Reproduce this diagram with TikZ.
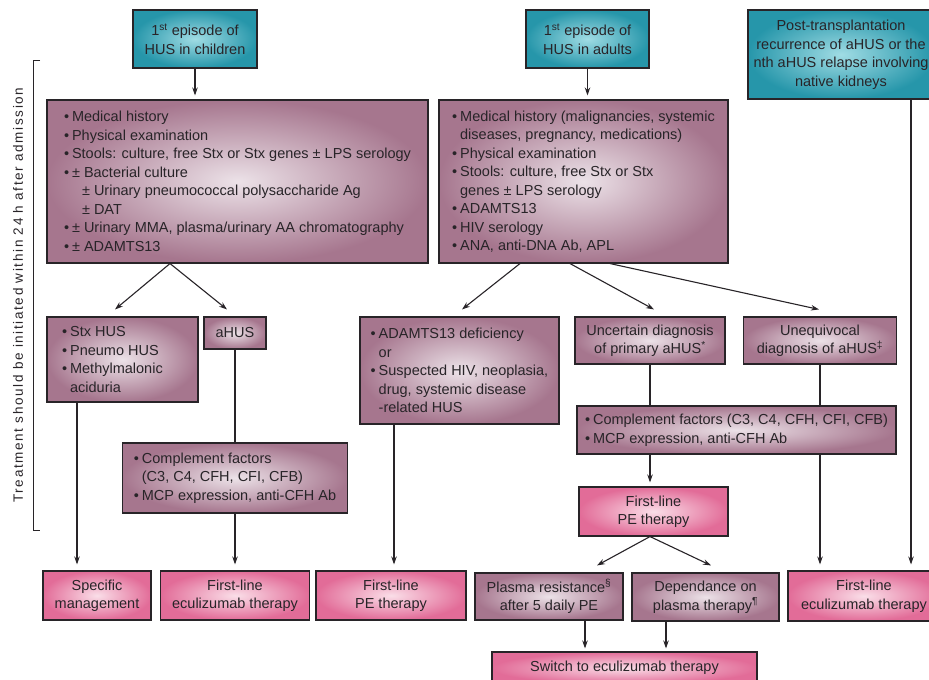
\documentclass[tikz,border=0pt]{standalone}
\usepackage{fontspec}
\setmainfont{Liberation Sans}
\usetikzlibrary{arrows.meta,calc}
\definecolor{tealD}{RGB}{38,150,170}
\definecolor{tealL}{RGB}{160,220,228}
\definecolor{mauveD}{RGB}{166,118,142}
\definecolor{mauveL}{RGB}{236,226,232}
\definecolor{pinkD}{RGB}{226,108,152}
\definecolor{pinkL}{RGB}{250,222,232}
\definecolor{inkc}{RGB}{40,36,40}
\newcommand{\fs}{\fontsize{14.5}{18.5}\selectfont}
\newcommand{\bl}{\makebox[8pt][l]{\textbullet}}
\newcommand{\ind}{\hspace*{8pt}}
\begin{document}
\begin{tikzpicture}[x=1pt,y=-1pt,
  base/.style={draw=inkc, line width=1.1pt, inner sep=0pt, font=\fs, text=inkc},
  tealbox/.style={base, inner color=tealL, outer color=tealD, align=center},
  mauvebox/.style={base, inner color=mauveL, outer color=mauveD, align=left},
  mauvec/.style={base, inner color=mauveL, outer color=mauveD, align=center},
  pinkbox/.style={base, inner color=pinkL, outer color=pinkD, align=center},
  conn/.style={draw=inkc, line width=1.1pt},
  arr/.style={conn, -{Stealth[length=8pt,width=5.5pt]}},
]
\clip (0,0) rectangle (929,680);
\fill[white] (0,0) rectangle (929,680);

% top boxes
\node[tealbox, minimum width=124pt, minimum height=58pt] (ch) at (195,39) {1\textsuperscript{st} episode of\\HUS in children};
\node[tealbox, minimum width=123pt, minimum height=58pt] (ad) at (587.5,39) {1\textsuperscript{st} episode of\\HUS in adults};
\node[tealbox, minimum width=186pt, minimum height=89pt] (pt) at (841,54.5) {Post-transplantation\\recurrence of aHUS or the\\nth aHUS relapse involving\\native kidneys};

% big boxes
\node[mauvebox, minimum width=381pt, minimum height=163pt] (cb) at (237.5,181.5) {\bl Medical history\\
\bl Physical examination\\
\bl Stools: culture, free Stx or Stx genes ± LPS serology\\
\bl ± Bacterial culture\\
\hspace*{18pt}± Urinary pneumococcal polysaccharide Ag\\
\hspace*{18pt}± DAT\\
\bl ± Urinary MMA, plasma/urinary AA chromatography\\
\bl ± ADAMTS13};
\node[mauvebox, minimum width=289pt, minimum height=163pt] (ab) at (583.5,181.5) {\bl Medical history (malignancies, systemic\\
\ind diseases, pregnancy, medications)\\
\bl Physical examination\\
\bl Stools: culture, free Stx or Stx\\
\ind genes ± LPS serology\\
\bl ADAMTS13\\
\bl HIV serology\\
\bl ANA, anti-DNA Ab, APL};

% second row
\node[mauvebox, minimum width=151pt, minimum height=85pt] (stx) at (122.5,359.5) {\bl Stx HUS\\
\bl Pneumo HUS\\
\bl Methylmalonic\\
\ind aciduria\hspace*{62pt}};
\node[mauvec, minimum width=62pt, minimum height=32pt] (ahus) at (235,333) {aHUS};
\node[mauvebox, minimum width=199pt, minimum height=107pt] (adm) at (459.5,370.5) {\bl ADAMTS13 deficiency\\
\ind or\\
\bl Suspected HIV, neoplasia,\\
\ind drug, systemic disease\\
\ind -related HUS};
\node[mauvec, minimum width=150pt, minimum height=47pt] (unc) at (650,340.5) {Uncertain diagnosis\\of primary aHUS\textsuperscript{*}};
\node[mauvec, minimum width=153pt, minimum height=47pt] (uneq) at (820,340.5) {Unequivocal\\diagnosis of aHUS\textsuperscript{‡}};

% complement boxes
\node[mauvebox, minimum width=225pt, minimum height=70pt] (cc) at (235,478) {\bl Complement factors\\
\ind (C3, C4, CFH, CFI, CFB)\\
\bl MCP expression, anti-CFH Ab};
\node[mauvebox, minimum width=319pt, minimum height=48pt] (ac) at (736.5,430) {\bl Complement factors (C3, C4, CFH, CFI, CFB)\\
\bl MCP expression, anti-CFH Ab};

\node[pinkbox, minimum width=149pt, minimum height=49pt] (pe1) at (653.5,511.5) {First-line\\PE therapy};

% bottom row
\node[pinkbox, minimum width=108pt, minimum height=49pt] (spec) at (97,595.5) {Specific\\management};
\node[pinkbox, minimum width=149pt, minimum height=49pt] (ecu1) at (235,595.5) {First-line\\eculizumab therapy};
\node[pinkbox, minimum width=150pt, minimum height=49pt] (pe2) at (391,595.5) {First-line\\PE therapy};
\node[mauvec, minimum width=148pt, minimum height=47pt] (pr) at (549,596.5) {Plasma resistance\textsuperscript{§}\\after 5 daily PE};
\node[mauvec, minimum width=147pt, minimum height=48pt] (dep) at (705.5,597) {Dependance on\\plasma therapy\textsuperscript{¶}};
\node[pinkbox, minimum width=152pt, minimum height=50pt] (ecu2) at (864,596) {First-line\\eculizumab therapy};
\node[pinkbox, minimum width=265pt, minimum height=32pt] (sw) at (624.5,668) {Switch to eculizumab therapy};

% side bracket and label
\draw[conn, line width=1pt] (40,60) -- (33,60) -- (33,530) -- (40,530);
\node[rotate=90, text=inkc, font=\fontsize{13.5}{16}\selectfont\addfontfeature{LetterSpace=12}] (lbl) at (18,295) {Treatment should be initiated within 24 h after admission};

% connectors
\draw[arr, shorten >=4pt] (ch.south) -- (ch.south |- cb.north);
\draw[arr, shorten >=4pt] (ad.south) -- (ad.south |- ab.north);
\draw[arr] ([xshift=-67.5pt]cb.south) -- ([xshift=-7.5pt,yshift=7pt]stx.north);
\draw[arr] ([xshift=-67.5pt]cb.south) -- ([xshift=-8pt,yshift=7pt]ahus.north);
\draw[arr] ([xshift=-63.5pt]ab.south) -- ([xshift=2.5pt,yshift=7pt]adm.north);
\draw[arr] ([xshift=-13.5pt]ab.south) -- ([xshift=4pt,yshift=7pt]unc.north);
\draw[arr] ([xshift=26.5pt]ab.south) -- ([xshift=-1pt,yshift=7pt]uneq.north);

\draw[arr, shorten >=6pt] ([xshift=-45.5pt]stx.south) -- ([xshift=-45.5pt]stx.south |- spec.north);
\draw[conn] (ahus.south) -- (ahus.south |- cc.north);
\draw[arr, shorten >=6pt] (cc.south) -- (cc.south |- ecu1.north);
\draw[arr, shorten >=6pt] ([xshift=-65.5pt]adm.south) -- ([xshift=-65.5pt]adm.south |- pe2.north);

\draw[conn] (unc.south) -- (unc.south |- ac.north);
\draw[conn] (uneq.south) -- (uneq.south |- ac.north);
\draw[arr, shorten >=4pt] (ac.south -| unc.south) -- (pe1.north -| unc.south);
\draw[arr, shorten >=6pt] (ac.south -| uneq.south) -- (ecu2.north -| uneq.south);
\draw[arr, shorten >=6pt] ([xshift=70pt]pt.south) -- ([xshift=70pt]pt.south |- ecu2.north);

\draw[arr] (pe1.south -| unc.south) -- ([xshift=48pt,yshift=7pt]pr.north);
\draw[arr] (pe1.south -| unc.south) -- ([xshift=5.5pt,yshift=7pt]dep.north);
\draw[arr, shorten >=3pt] ([xshift=36pt]pr.south) -- ([xshift=36pt]pr.south |- sw.north);
\draw[arr, shorten >=3pt] ([xshift=-39.5pt]dep.south) -- ([xshift=-39.5pt]dep.south |- sw.north);
\end{tikzpicture}
\end{document}
